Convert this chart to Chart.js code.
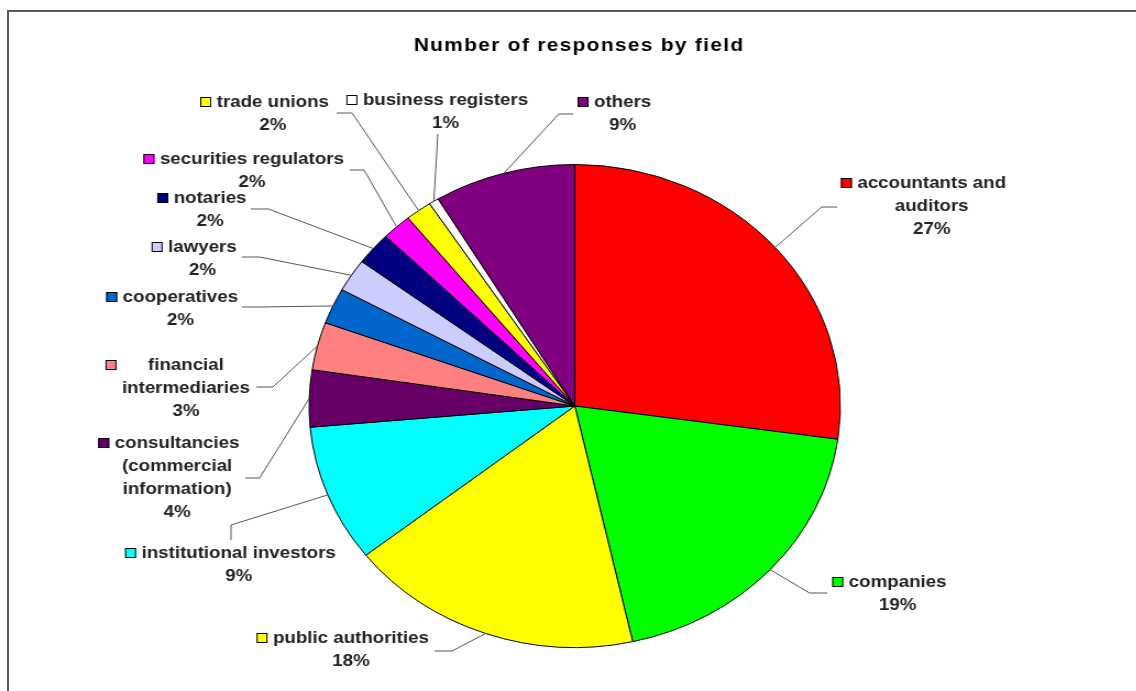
<!DOCTYPE html>
<html>
<head>
<meta charset="utf-8">
<script src="https://cdn.jsdelivr.net/npm/chart.js@4"></script>
<style>
html,body{margin:0;padding:0;background:#fff;overflow:hidden;}
#frame{position:absolute;left:7px;top:10px;width:1300px;height:900px;border-top:2px solid #5a5a5a;border-left:2px solid #5a5a5a;}
#grafico{position:absolute;left:0;top:0;transform:scaleX(1.1);transform-origin:0 0;}
</style>
</head>
<body>
<div id="frame"></div>
<canvas id="grafico" width="1033" height="691"></canvas>
<script>
const titulo = "Number of responses by field";

const fields = [
  "accountants and\nauditors",
  "companies",
  "public authorities",
  "institutional investors",
  "consultancies\n(commercial\ninformation)",
  "financial\nintermediaries",
  "cooperatives",
  "lawyers",
  "notaries",
  "securities regulators",
  "trade unions",
  "business registers",
  "others"
];

// share of responses, %
const shares = [27.2, 19.3, 17.9, 9.2, 3.8, 3.2, 2.4, 2.2, 2.2, 1.8, 1.6, 0.6, 8.6];

const colors = [
  "#ff0000", "#00ff00", "#ffff00", "#00ffff", "#660066", "#ff8080", "#0066cc",
  "#ccccff", "#000080", "#ff00ff", "#ffff00", "#ffffff", "#800080"
];

// label block: text centre x, first line y, leader end x/y, elbow x/y
const labelPos = [
  [847, 183, 761, 207, 747, 207],
  [816, 582, 752, 593, 736, 593],
  [319, 638, 395, 651, 411, 651],
  [217, 553, 210, 540, 210, 525],
  [161, 443, 223, 478, 236, 478],
  [169, 365, 233, 387, 248, 387],
  [164, 297, 220, 307, 236, 307],
  [184, 247, 220, 257, 236, 257],
  [191, 198, 228, 209, 244, 209],
  [229, 159, 318, 170, 331, 170],
  [248, 102, 306, 113, 320, 113],
  [405, 100, 398, 134, 398, 134],
  [566, 102, 521, 114, 508, 114]
];

const fieldLabels = {
  id: 'fieldLabels',
  afterDatasetsDraw(chart){
    const ctx = chart.ctx;
    const arcs = chart.getDatasetMeta(0).data;
    const total = shares.reduce((s,v)=>s+v,0);

    ctx.save();
    // title
    ctx.fillStyle = "#000";
    ctx.font = "bold 19px 'Liberation Sans', Arial, sans-serif";
    ctx.letterSpacing = "1.2px";
    ctx.textAlign = "center";
    ctx.textBaseline = "middle";
    ctx.fillText(titulo, chart.width/2 + 10, 46);
    ctx.letterSpacing = "0px";

    arcs.forEach((arc,i)=>{
      const p = arc.getProps(['x','y','startAngle','endAngle','outerRadius'], true);
      const mid = (p.startAngle + p.endAngle)/2;
      const sx = p.x + Math.cos(mid)*p.outerRadius;
      const sy = p.y + Math.sin(mid)*p.outerRadius;
      const [cx, ly, ex, ey, bx, by] = labelPos[i];

      // leader line
      ctx.strokeStyle = "#555";
      ctx.lineWidth = 1;
      ctx.beginPath();
      ctx.moveTo(sx, sy);
      ctx.lineTo(bx, by);
      ctx.lineTo(ex, ey);
      ctx.stroke();

      // text lines
      const lines = fields[i].split("\n");
      lines.push(Math.round(shares[i]/total*100) + "%");
      ctx.font = "bold 17px 'Liberation Sans', Arial, sans-serif";
      ctx.fillStyle = "#222";
      const w = Math.max(...lines.slice(0,-1).map(t=>ctx.measureText(t).width));
      lines.forEach((t,k)=>ctx.fillText(t, cx, ly + k*23));

      // legend key
      const kx = cx - w/2 - 15;
      ctx.fillStyle = colors[i];
      ctx.fillRect(kx, ly - 5, 10, 10);
      ctx.strokeStyle = "#000";
      ctx.strokeRect(kx + 0.5, ly - 4.5, 9, 9);
    });
    ctx.restore();
  }
};

const chart = new Chart(grafico, {
  type: 'pie',
  data: {
    labels: fields,
    datasets: [{
      data: shares,
      backgroundColor: colors,
      borderColor: '#000',
      borderWidth: 1
    }]
  },
  options: {
    responsive: false,
    animation: false,
    devicePixelRatio: 1,
    layout: {padding: {left: 280, right: 268, top: 164, bottom: 43}},
    plugins: {legend: {display: false}, tooltip: {enabled: false}}
  },
  plugins: [fieldLabels]
});
</script>
</body>
</html>
